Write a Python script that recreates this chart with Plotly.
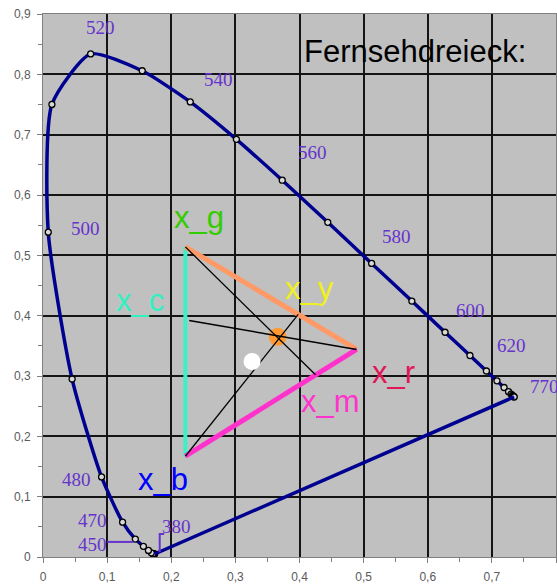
import plotly.graph_objects as go

# CIE 1931 spectral locus: chromaticity coordinates of the marked wavelengths
wavelength_nm = [380, 390, 400, 410, 420, 430, 440, 450, 460, 470, 480, 490,
                 500, 510, 520, 530, 540, 550, 560, 570, 580, 590, 600, 610,
                 620, 630, 640, 650, 660, 670, 680, 690, 770]
locus_x = [0.1741, 0.1738, 0.1733, 0.1726, 0.1714, 0.1689, 0.1644, 0.1566,
           0.1440, 0.1241, 0.0913, 0.0454, 0.0082, 0.0139, 0.0743, 0.1547,
           0.2296, 0.3016, 0.3731, 0.4441, 0.5125, 0.5752, 0.6270, 0.6658,
           0.6915, 0.7079, 0.7190, 0.7260, 0.7300, 0.7320, 0.7334, 0.7344,
           0.7347]
locus_y = [0.0050, 0.0049, 0.0048, 0.0048, 0.0051, 0.0069, 0.0109, 0.0177,
           0.0297, 0.0578, 0.1327, 0.2950, 0.5384, 0.7502, 0.8338, 0.8059,
           0.7543, 0.6923, 0.6245, 0.5547, 0.4866, 0.4242, 0.3725, 0.3340,
           0.3083, 0.2920, 0.2809, 0.2740, 0.2700, 0.2680, 0.2666, 0.2656,
           0.2653]

# Wavelength captions
label_nm = ["520", "540", "560", "580", "600", "620", "770", "500", "480", "470", "450", "380"]
label_x = [0.089, 0.273, 0.420, 0.552, 0.667, 0.731, 0.782, 0.066, 0.052, 0.077, 0.077, 0.208]
label_y = [0.877, 0.792, 0.670, 0.532, 0.408, 0.351, 0.283, 0.545, 0.129, 0.060, 0.020, 0.050]

# Leader lines for the 450 and 380 captions
leader_450_x = [0.100, 0.141]
leader_450_y = [0.025, 0.025]
leader_380_x = [0.189, 0.182, 0.182]
leader_380_y = [0.038, 0.038, 0.008]

# Television primaries (triangle corners)
prim_r = (0.489, 0.344)
prim_g = (0.222, 0.514)
prim_b = (0.222, 0.167)

# Complementary points on the triangle sides
comp_c = (0.228, 0.392)   # on g-b, opposite r
comp_y = (0.398, 0.402)   # on g-r, opposite b
comp_m = (0.425, 0.302)   # on b-r, opposite g

# Mixed colour point and white point
mix_point = (0.366, 0.365)
white_point = (0.326, 0.324)

# Corner / side captions
tri_names = ["x_g", "x_c", "x_y", "x_r", "x_m", "x_b"]
tri_x = [0.243, 0.151, 0.416, 0.547, 0.449, 0.187]
tri_y = [0.562, 0.425, 0.445, 0.305, 0.258, 0.129]
tri_colors = ["#33CC00", "#33F0C0", "#F0F020", "#E0185A", "#FF33CC", "#0000FF"]

LOCUS_COLOR = "#000090"
NM_COLOR = "#6633CC"

fig = go.Figure()

# Spectral locus with markers
fig.add_trace(go.Scatter(
    x=locus_x, y=locus_y, mode="lines+markers",
    line=dict(color=LOCUS_COLOR, width=3.5, shape="spline", smoothing=0.6),
    marker=dict(size=6, color="#D8D8D8", line=dict(color="#000000", width=1.3)),
    hoverinfo="skip"))

# Line of purples
fig.add_trace(go.Scatter(
    x=[locus_x[-1], locus_x[0]], y=[locus_y[-1], locus_y[0]], mode="lines",
    line=dict(color=LOCUS_COLOR, width=3.5), hoverinfo="skip"))

# Triangle sides
def side(p, q, color, width):
    fig.add_trace(go.Scatter(x=[p[0], q[0]], y=[p[1], q[1]], mode="lines",
                             line=dict(color=color, width=width), hoverinfo="skip"))

side(prim_g, prim_b, "#3CF0C8", 4)
side(prim_g, prim_r, "#FF9966", 5)
side(prim_b, prim_r, "#FF33CC", 5)

# Mixed colour point
fig.add_trace(go.Scatter(x=[mix_point[0]], y=[mix_point[1]], mode="markers",
                         marker=dict(size=18, color="#FF9933"), hoverinfo="skip"))

# Lines from each primary to its complementary point
side(prim_g, comp_m, "#000000", 1.3)
side(prim_b, comp_y, "#000000", 1.3)
side(prim_r, comp_c, "#000000", 1.6)

# White point
fig.add_trace(go.Scatter(x=[white_point[0]], y=[white_point[1]], mode="markers",
                         marker=dict(size=17, color="#FFFFFF"), hoverinfo="skip"))

# Leader lines
for lx, ly in ((leader_450_x, leader_450_y), (leader_380_x, leader_380_y)):
    fig.add_trace(go.Scatter(x=lx, y=ly, mode="lines",
                             line=dict(color=NM_COLOR, width=2), hoverinfo="skip"))

annotations = []
for t, x, y in zip(label_nm, label_x, label_y):
    annotations.append(dict(x=x, y=y, xref="x", yref="y", text=t, showarrow=False,
                            xanchor="center", yanchor="middle",
                            font=dict(family="Liberation Serif", size=19, color=NM_COLOR)))
for t, x, y, c in zip(tri_names, tri_x, tri_y, tri_colors):
    annotations.append(dict(x=x, y=y, xref="x", yref="y", text=t, showarrow=False,
                            xanchor="center", yanchor="middle",
                            font=dict(family="Liberation Sans", size=31, color=c)))
annotations.append(dict(x=0.580, y=0.838, xref="x", yref="y", text="Fernsehdreieck:",
                        showarrow=False, xanchor="center", yanchor="middle",
                        font=dict(family="Liberation Sans", size=31, color="#000000")))

axis_common = dict(
    dtick=0.1, tick0=0, showgrid=True, gridcolor="#141414", gridwidth=2,
    zeroline=False, showline=True, linecolor="#808080", linewidth=1, mirror=True,
    ticks="outside", ticklen=5, tickcolor="#808080", tickwidth=1,
    minor=dict(dtick=0.05, ticks="outside", ticklen=4, tickcolor="#808080", showgrid=False),
    tickfont=dict(family="Liberation Sans", size=12, color="#5a5a5a"),
    fixedrange=True,
)

fig.update_layout(
    width=557, height=585,
    margin=dict(l=43, r=1, t=14, b=28),
    paper_bgcolor="#FFFFFF", plot_bgcolor="#C0C0C0",
    separators=", ",
    showlegend=False,
    annotations=annotations,
    xaxis=dict(range=[0, 0.8], ticklabelstandoff=4, **axis_common),
    yaxis=dict(range=[0, 0.9], ticklabelstandoff=4, **axis_common),
)

fig.write_html("out.html", config={"displayModeBar": False})
